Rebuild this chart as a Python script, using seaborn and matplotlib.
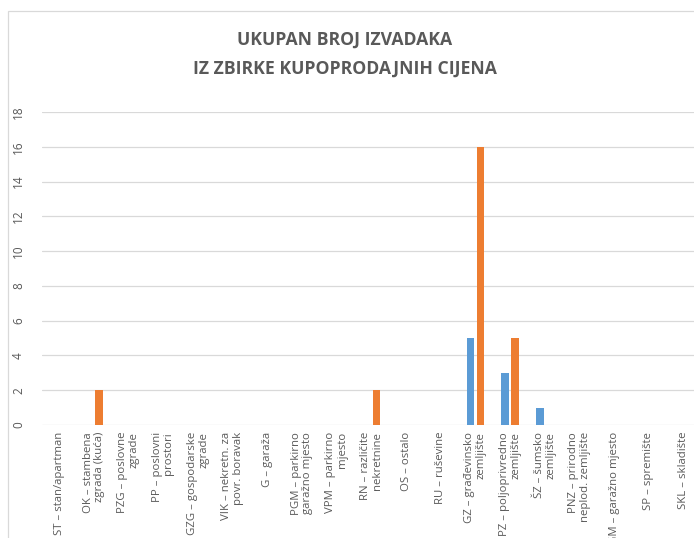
import matplotlib
matplotlib.use("Agg")
import matplotlib.pyplot as plt
import matplotlib.patches as mpatches
import pandas as pd
import seaborn as sns

categories = [
    "ST – stan/apartman",
    "OK – stambena\nzgrada (kuća)",
    "PZG – poslovne\nzgrade",
    "PP – poslovni\nprostori",
    "GZG – gospodarske\nzgrade",
    "VIK – nekretn. za\npovr. boravak",
    "G – garaža",
    "PGM – parkirno\ngaražno mjesto",
    "VPM – parkirno\nmjesto",
    "RN – različite\nnekretnine",
    "OS – ostalo",
    "RU – ruševine",
    "GZ – građevinsko\nzemljište",
    "PZ – poljoprivredno\nzemljište",
    "ŠZ – šumsko\nzemljište",
    "PNZ – prirodno\nneplod. zemljište",
    "GM – garažno mjesto",
    "SP – spremište",
    "SKL – skladište",
]
series_names = ["Serija 1", "Serija 2"]
values_blue = [0, 0, 0, 0, 0, 0, 0, 0, 0, 0, 0, 0, 5, 3, 1, 0, 0, 0, 0]
values_orange = [0, 2, 0, 0, 0, 0, 0, 0, 0, 2, 0, 0, 16, 5, 0, 0, 0, 0, 0]
y_ticks = [0, 2, 4, 6, 8, 10, 12, 14, 16, 18]
title = "UKUPAN BROJ IZVADAKA\nIZ ZBIRKE KUPOPRODAJNIH CIJENA"

rows = []
for s, vals in zip(series_names, [values_blue, values_orange]):
    for c, v in zip(categories, vals):
        rows.append({"kategorija": c, "serija": s, "broj": v})
df = pd.DataFrame(rows)

sns.set_theme(style="white")
plt.rcParams["font.family"] = ["Open Sans", "DejaVu Sans"]

text_col = "#595959"
grid_col = "#D9D9D9"

fig = plt.figure(figsize=(6.94, 5.38), dpi=100)
W, H = 694, 538
ax = fig.add_axes([41.7 / W, 1 - 425 / H, 659.3 / W, 313 / H])

sns.barplot(data=df, x="kategorija", y="broj", hue="serija", order=categories,
            hue_order=series_names, palette=["#5B9BD5", "#ED7D31"],
            saturation=1, width=0.58, gap=0.25, linewidth=0, legend=False, ax=ax)

ax.set_xlim(-0.5, len(categories) - 0.5)
ax.set_ylim(0, 18)
ax.set_yticks(y_ticks)
ax.set_yticklabels([str(t) for t in y_ticks])
ax.yaxis.grid(True, color=grid_col, linewidth=0.9)
ax.set_axisbelow(True)
for sp in ax.spines.values():
    sp.set_visible(False)
ax.set_xlabel("")
ax.set_ylabel("")

ax.tick_params(axis="y", length=0, labelrotation=90, pad=12, labelsize=8.5,
               labelcolor=text_col)
for lab in ax.get_yticklabels():
    lab.set_va("center")
ax.tick_params(axis="x", length=0, pad=5, labelsize=8.2, labelcolor=text_col)
for lab in ax.get_xticklabels():
    lab.set_rotation(90)
    lab.set_ha("center")
    lab.set_va("top")
    lab.set_multialignment("right")
    lab.set_linespacing(1.05)

fig.text(0.497, 1 - 31 / H, title, ha="center", va="top",
         family="Open Sans", fontweight="bold", fontsize=12.7,
         color=text_col, linespacing=1.78)

border = mpatches.Rectangle((8 / W, -0.2), 1.5, (1 - 11 / H) + 0.2,
                            transform=fig.transFigure, fill=False,
                            edgecolor=grid_col, linewidth=0.9, clip_on=False)
fig.patches.append(border)

fig.savefig("out.png", dpi=100)
